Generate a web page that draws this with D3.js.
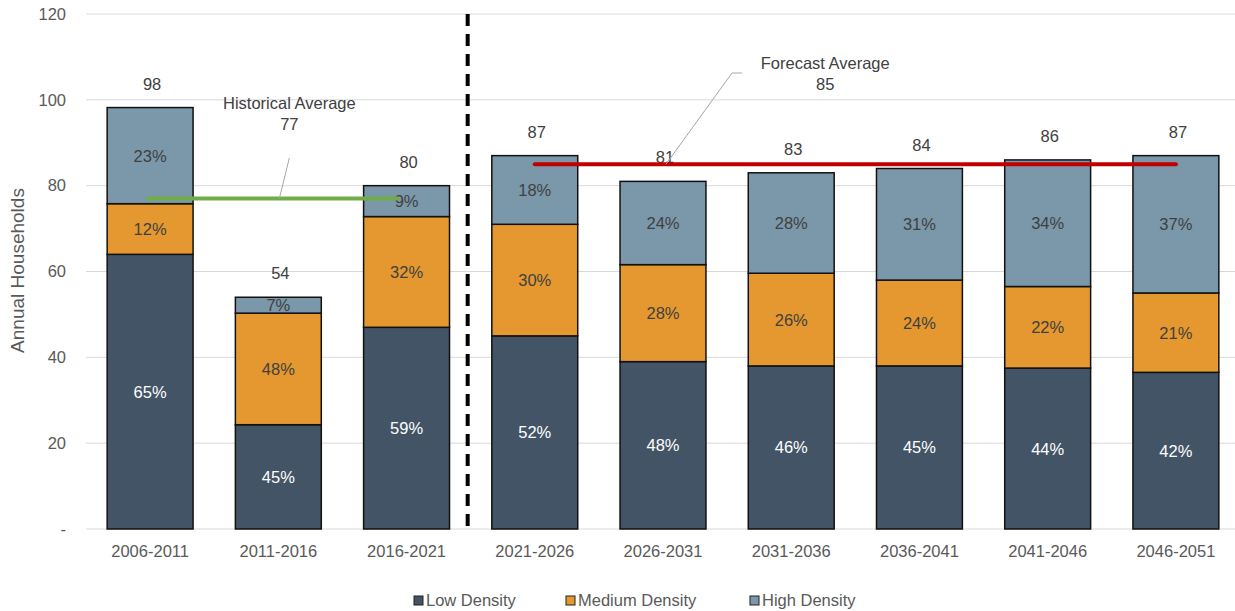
<!DOCTYPE html>
<html>
<head>
<meta charset="utf-8">
<script src="https://cdn.jsdelivr.net/npm/d3@7"></script>
<style>
  body { margin: 0; background: #fff; }
  svg { font-family: "Liberation Sans", Arial, sans-serif; }
</style>
</head>
<body>
<div id="chart"></div>
<script>
var periods = ['2006-2011', '2011-2016', '2016-2021', '2021-2026', '2026-2031',
               '2031-2036', '2036-2041', '2041-2046', '2046-2051'];
var lowDensity    = [64, 24.3, 47, 45, 39, 38, 38, 37.5, 36.5];
var mediumDensity = [11.8, 26, 25.8, 26, 22.6, 21.6, 20, 19, 18.5];
var highDensity   = [22.4, 3.7, 7.2, 16, 19.4, 23.4, 26, 29.5, 32];
var seriesNames = ['Low Density', 'Medium Density', 'High Density'];
var yTicks = [0, 20, 40, 60, 80, 100, 120];

var historicalAverage = 77;   // over periods 0..2
var forecastAverage = 85;     // over periods 3..8
var historyCount = 3;

var width = 1235, height = 611;
var margin = {left: 86, right: -5, top: 14, bottom: 82};
var colors = ['#435466', '#e4982f', '#7b97aa'];
var textColor = '#595959';
var fontSize = 16.5;

var svg = d3.select('#chart').append('svg')
            .attr('width', width)
            .attr('height', height);

var x = d3.scaleBand()
          .domain(periods)
          .range([margin.left, width - margin.right])
          .paddingInner(0.33)
          .paddingOuter(0.165);

var y = d3.scaleLinear()
          .domain([0, 120])
          .range([height - margin.bottom, margin.top]);

// gridlines
svg.append('g').selectAll('line').data(yTicks)
   .enter().append('line')
   .attr('x1', margin.left).attr('x2', width)
   .attr('y1', function(d) { return y(d); })
   .attr('y2', function(d) { return y(d); })
   .attr('stroke', '#d9d9d9')
   .attr('stroke-width', 1);

// y axis
var yAxis = d3.axisLeft(y).tickValues(yTicks).tickSize(0).tickPadding(0)
              .tickFormat(function(d) { return d === 0 ? '-' : d; });
var yg = svg.append('g')
            .attr('transform', 'translate(' + (margin.left - 20) + ',0)')
            .call(yAxis);
yg.select('.domain').remove();
yg.selectAll('text').attr('font-size', fontSize).attr('fill', textColor)
  .attr('font-family', '"Liberation Sans", Arial, sans-serif');

svg.append('text')
   .attr('transform', 'translate(24,' + (y(60) - 1) + ') rotate(-90)')
   .attr('text-anchor', 'middle')
   .attr('font-size', 19)
   .attr('fill', textColor)
   .text('Annual Households');

// x axis
var xAxis = d3.axisBottom(x).tickSize(0).tickPadding(16);
var xg = svg.append('g')
            .attr('transform', 'translate(0,' + y(0) + ')')
            .call(xAxis);
xg.select('.domain').remove();
xg.selectAll('text').attr('font-size', fontSize).attr('fill', textColor)
  .attr('font-family', '"Liberation Sans", Arial, sans-serif');

// stacked bars
var rows = periods.map(function(p, i) {
  return {period: p, low: lowDensity[i], medium: mediumDensity[i], high: highDensity[i]};
});
var stack = d3.stack().keys(['low', 'medium', 'high']);
var layers = stack(rows);

var layerGroups = svg.append('g').selectAll('g').data(layers)
                     .enter().append('g')
                     .attr('fill', function(d, i) { return colors[i]; });

layerGroups.selectAll('rect')
           .data(function(d) { return d; })
           .enter().append('rect')
           .attr('x', function(d) { return x(d.data.period); })
           .attr('width', x.bandwidth())
           .attr('y', function(d) { return y(d[1]); })
           .attr('height', function(d) { return y(d[0]) - y(d[1]); })
           .attr('stroke', '#111')
           .attr('stroke-width', 1.5);

// percentage labels
layerGroups.each(function(layer, li) {
  d3.select(this).selectAll('text')
    .data(layer)
    .enter().append('text')
    .attr('x', function(d) { return x(d.data.period) + x.bandwidth() / 2; })
    .attr('y', function(d) { return (y(d[0]) + y(d[1])) / 2 + 6; })
    .attr('text-anchor', 'middle')
    .attr('font-size', fontSize)
    .attr('fill', li === 0 ? '#ffffff' : '#404040')
    .text(function(d) {
      var total = d.data.low + d.data.medium + d.data.high;
      return Math.round((d[1] - d[0]) / total * 100) + '%';
    });
});

// total labels
svg.append('g').selectAll('text').data(rows)
   .enter().append('text')
   .attr('x', function(d) { return x(d.period) + x.bandwidth() / 2 + 2; })
   .attr('y', function(d) { return y(d.low + d.medium + d.high) - 18; })
   .attr('text-anchor', 'middle')
   .attr('font-size', fontSize)
   .attr('fill', '#404040')
   .text(function(d) { return Math.round(d.low + d.medium + d.high); });

// divider between history and forecast
var divX = x(periods[historyCount - 1]) + x.bandwidth() + x.step() * x.paddingInner() / 2 - 3;
svg.append('line')
   .attr('x1', divX).attr('x2', divX)
   .attr('y1', y(120)).attr('y2', y(0))
   .attr('stroke', '#000')
   .attr('stroke-width', 4)
   .attr('stroke-dasharray', '12,8');

// average lines
function center(p) { return x(p) + x.bandwidth() / 2; }

svg.append('line')
   .attr('x1', center(periods[0]) - 2)
   .attr('x2', center(periods[historyCount - 1]) - 9)
   .attr('y1', y(historicalAverage)).attr('y2', y(historicalAverage))
   .attr('stroke', '#70ad47')
   .attr('stroke-width', 4)
   .attr('stroke-linecap', 'round');

svg.append('line')
   .attr('x1', center(periods[historyCount]))
   .attr('x2', center(periods[periods.length - 1]))
   .attr('y1', y(forecastAverage)).attr('y2', y(forecastAverage))
   .attr('stroke', '#c00000')
   .attr('stroke-width', 4)
   .attr('stroke-linecap', 'round');

// average annotations
var histX = center(periods[1]) + 11;
svg.append('line')
   .attr('x1', histX).attr('y1', 158)
   .attr('x2', histX - 10).attr('y2', y(historicalAverage))
   .attr('stroke', '#a6a6a6').attr('stroke-width', 1);
var histLabel = svg.append('text')
   .attr('text-anchor', 'middle')
   .attr('font-size', fontSize)
   .attr('fill', '#404040');
histLabel.append('tspan').attr('x', histX).attr('y', 109).text('Historical Average');
histLabel.append('tspan').attr('x', histX).attr('y', 130).text(historicalAverage);

var foreX = center(periods[5]) + 34;
var leadStartX = center(periods[4]) + 3;
svg.append('polyline')
   .attr('points', [[leadStartX, y(forecastAverage)], [leadStartX + 66, 73], [leadStartX + 76, 73]].join(' '))
   .attr('fill', 'none')
   .attr('stroke', '#a6a6a6').attr('stroke-width', 1);
var foreLabel = svg.append('text')
   .attr('text-anchor', 'middle')
   .attr('font-size', fontSize)
   .attr('fill', '#404040');
foreLabel.append('tspan').attr('x', foreX).attr('y', 69).text('Forecast Average');
foreLabel.append('tspan').attr('x', foreX).attr('y', 90).text(forecastAverage);

// legend
var legendX = [414, 566, 750];
var legend = svg.append('g').selectAll('g').data(seriesNames)
                .enter().append('g')
                .attr('transform', function(d, i) { return 'translate(' + legendX[i] + ',596)'; });
legend.append('rect')
      .attr('x', 0).attr('y', 0).attr('width', 9).attr('height', 9)
      .attr('fill', function(d, i) { return colors[i]; })
      .attr('stroke', '#222').attr('stroke-width', 1);
legend.append('text')
      .attr('x', 12).attr('y', 10)
      .attr('font-size', fontSize)
      .attr('fill', textColor)
      .text(function(d) { return d; });
</script>
</body>
</html>
